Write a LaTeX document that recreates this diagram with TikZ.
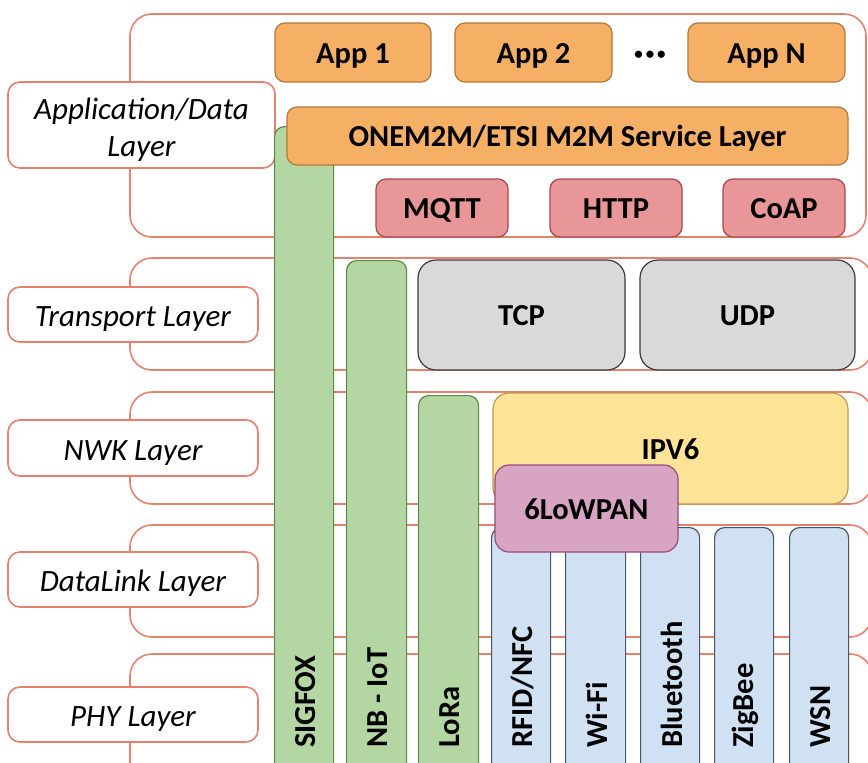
\documentclass[tikz,border=0pt]{standalone}
\usepackage{fontspec}
\setmainfont{Carlito}
\begin{document}
\begin{tikzpicture}[x=1pt,y=-1pt,
  band/.style={draw=bandred, line width=1.6pt, rounded corners=22pt},
  lblbase/.style={draw=bandred, line width=1.6pt, fill=white, rounded corners=12pt, inner sep=0pt, align=center, font=\fontsize{31}{37}\selectfont\itshape},
  lbl/.style={lblbase, text height=24pt, text depth=0pt},
  bx/.style={line width=1.2pt, rounded corners=10pt, inner sep=0pt, text height=21.5pt, text depth=0pt, font=\fontsize{30.5}{36}\selectfont\bfseries},
  obox/.style={bx, draw=obrd, fill=ofill},
  pbox/.style={bx, draw=pbrd, fill=pfill},
  gbox/.style={bx, draw=gybrd, fill=gyfill},
  ybox/.style={bx, draw=ybrd, fill=yfill},
  lbox/.style={bx, draw=lbrd, fill=lfill},
  gbar/.style={bx, draw=gbrd, fill=gfill, anchor=north west},
  bbar/.style={bx, draw=bbrd, fill=bfill, anchor=north west},
  vtxt/.style={rotate=90, anchor=west, inner sep=0pt, font=\fontsize{30.5}{36}\selectfont\bfseries},
]
\definecolor{bandred}{HTML}{E8806E}
\definecolor{ofill}{HTML}{F5B066}
\definecolor{obrd}{HTML}{B4783A}
\definecolor{pfill}{HTML}{E99699}
\definecolor{pbrd}{HTML}{A8474C}
\definecolor{gyfill}{HTML}{D9D9D9}
\definecolor{gybrd}{HTML}{3A3A3A}
\definecolor{yfill}{HTML}{FFE498}
\definecolor{ybrd}{HTML}{C09A4A}
\definecolor{lfill}{HTML}{D7A5C3}
\definecolor{lbrd}{HTML}{9A4A78}
\definecolor{gfill}{HTML}{B4D6A3}
\definecolor{gbrd}{HTML}{5A8A46}
\definecolor{bfill}{HTML}{CFE1F3}
\definecolor{bbrd}{HTML}{4C5662}
\useasboundingbox (0,0) rectangle (868,763);
% layer bands
\draw[band] (130,14) rectangle (866,237);
\draw[band] (130,258) rectangle (872,370);
\draw[band] (130,392) rectangle (872,504);
\draw[band] (130,525) rectangle (872,637);
\draw[band] (130,654) rectangle (872,790);
% layer labels
\node[lblbase, minimum width=267pt, minimum height=86pt] (lapp) at (141.5,125) {};
\node[inner sep=0pt, align=center, font=\fontsize{31}{37}\selectfont\itshape] (lapptxt) at (141.5,129.5) {Application/Data\\Layer};
\node[lbl, minimum width=250pt, minimum height=55pt] (ltr) at (133,314.5) {Transport Layer};
\node[lbl, minimum width=250pt, minimum height=56pt] (lnwk) at (133,448) {NWK Layer};
\node[lbl, minimum width=250pt, minimum height=55pt] (ldl) at (133,579.5) {DataLink Layer};
\node[lbl, minimum width=250pt, minimum height=55pt] (lphy) at (133,714.5) {PHY Layer};
% vertical bars
\node[gbar, minimum width=59pt, minimum height=660pt] (sigfox) at (274,126) {};
\node[gbar, minimum width=60pt, minimum height=530pt] (nbiot) at (346,260) {};
\node[gbar, minimum width=60pt, minimum height=400pt] (lora) at (418,395) {};
\node[bbar, minimum width=59pt, minimum height=260pt] (rfid) at (491,527) {};
\node[bbar, minimum width=60pt, minimum height=260pt] (wifi) at (565,527) {};
\node[bbar, minimum width=59pt, minimum height=260pt] (bt) at (640,527) {};
\node[bbar, minimum width=59pt, minimum height=260pt] (zig) at (714,527) {};
\node[bbar, minimum width=59pt, minimum height=260pt] (wsn) at (789,527) {};
\node[vtxt] (tsig) at (306,748) {SIGFOX};
\node[vtxt] (tnb) at (378,748) {NB - IoT};
\node[vtxt] (tlo) at (450,748) {LoRa};
\node[vtxt] (trf) at (522.5,748) {RFID/NFC};
\node[vtxt] (twf) at (597,748) {Wi-Fi};
\node[vtxt] (tbt) at (671.5,748) {Bluetooth};
\node[vtxt] (tzb) at (745.5,748) {ZigBee};
\node[vtxt] (tws) at (820.5,748) {WSN};
% application layer
\node[obox, minimum width=156pt, minimum height=59pt] (app1) at (353,52.5) {App 1};
\node[obox, minimum width=157pt, minimum height=59pt] (app2) at (533.5,52.5) {App 2};
\node[obox, minimum width=157pt, minimum height=59pt] (appn) at (766.5,52.5) {App N};
\node[inner sep=0pt, font=\fontsize{17}{20}\selectfont\bfseries] (dots) at (650,55) {•\kern3pt•\kern3pt•};
\node[obox, minimum width=561pt, minimum height=58pt] (onem2m) at (567.5,136) {ONEM2M/ETSI M2M Service Layer};
\node[pbox, minimum width=132pt, minimum height=58pt] (mqtt) at (442,208) {MQTT};
\node[pbox, minimum width=132pt, minimum height=58pt] (http) at (616,208) {HTTP};
\node[pbox, minimum width=122pt, minimum height=58pt] (coap) at (784,208) {CoAP};
% transport
\node[gbox, rounded corners=18pt, minimum width=207pt, minimum height=110pt] (tcp) at (521.5,315) {TCP};
\node[gbox, rounded corners=18pt, minimum width=215pt, minimum height=110pt] (udp) at (747.5,315) {UDP};
% network
\node[ybox, rounded corners=16pt, minimum width=355pt, minimum height=111pt] (ipv6) at (670.5,448.5) {IPV6};
\node[lbox, rounded corners=14pt, minimum width=183pt, minimum height=87pt] (lowpan) at (586.5,508.5) {6LoWPAN};
\end{tikzpicture}
\end{document}
